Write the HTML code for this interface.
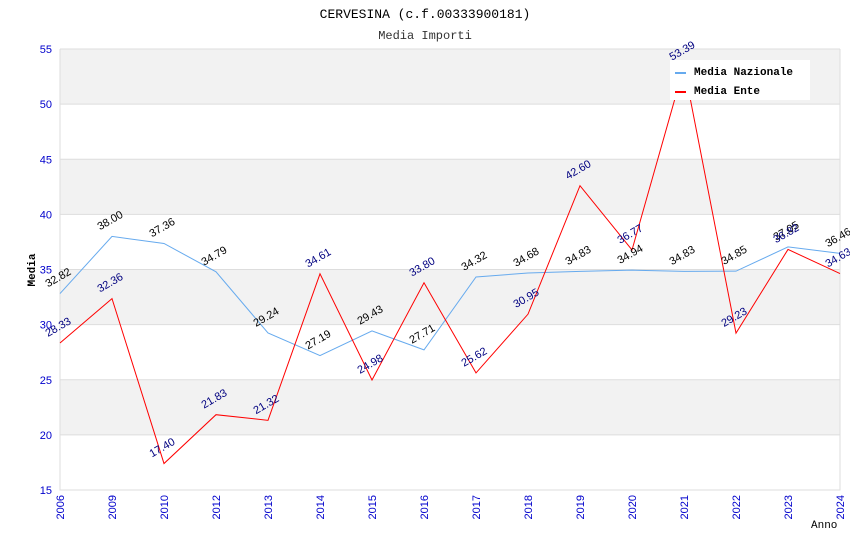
<!DOCTYPE html>
<html><head><meta charset="utf-8"><style>
body{margin:0;background:#fff;}
svg{display:block;}
</style></head><body>
<svg id="chart" width="850" height="550" xmlns="http://www.w3.org/2000/svg">
<text x="425" y="18" text-anchor="middle" font-family="Liberation Mono, monospace" font-size="13" fill="#000">CERVESINA (c.f.00333900181)</text>
<text x="425" y="39" text-anchor="middle" font-family="Liberation Mono, monospace" font-size="12" fill="#333">Media Importi</text>
<g id="bands"></g>
<g id="axes"></g>
<g id="series"></g>
<g id="labels"></g>
<text x="35" y="270" transform="rotate(-90 35 270)" text-anchor="middle" font-family="Liberation Mono, monospace" font-size="11" font-weight="bold">Media</text>
<text x="811" y="528" font-family="Liberation Mono, monospace" font-size="11">Anno</text>
<g>
<rect x="670" y="60" width="140" height="40" fill="#fff"/>
<line x1="675" y1="73" x2="686" y2="73" stroke="#66aaee" stroke-width="2"/>
<text x="694" y="75" font-family="Liberation Mono, monospace" font-size="11" font-weight="bold">Media Nazionale</text>
<line x1="675" y1="92" x2="686" y2="92" stroke="#ff0000" stroke-width="2"/>
<text x="694" y="94" font-family="Liberation Mono, monospace" font-size="11" font-weight="bold">Media Ente</text>
</g>
</svg>
<script>
const categories=["2006","2009","2010","2012","2013","2014","2015","2016","2017","2018","2019","2020","2021","2022","2023","2024"];
const nazionale=[32.82,38.00,37.36,34.79,29.24,27.19,29.43,27.71,34.32,34.68,34.83,34.94,34.83,34.85,37.05,36.46];
const ente=[28.33,32.36,17.40,21.83,21.32,34.61,24.98,33.80,25.62,30.95,42.60,36.77,53.39,29.23,36.82,34.63];
const yTicks=[15,20,25,30,35,40,45,50,55];
const NS="http://www.w3.org/2000/svg";
const L=60,R=840,T=49,B=490,ymin=15,ymax=55;
const xs=i=>L+i*(R-L)/(categories.length-1);
const ys=v=>B-(v-ymin)*(B-T)/(ymax-ymin);
function mk(tag,attrs,parent){const e=document.createElementNS(NS,tag);for(const k in attrs)e.setAttribute(k,attrs[k]);document.getElementById(parent).appendChild(e);return e;}
for(let i=0;i<yTicks.length-1;i++){
 const r=mk('rect',{x:L,y:ys(yTicks[i+1]),width:R-L,height:ys(yTicks[i])-ys(yTicks[i+1]),fill:(i%2===0)?'#fff':'#f2f2f2'},'bands');
 
 
}
yTicks.forEach(v=>{
 const l=mk('line',{x1:L,x2:R,y1:ys(v),y2:ys(v),stroke:'#ddd'},'axes');
 
 
 const t=mk('text',{x:L-8,y:ys(v)+4,'text-anchor':'end','font-family':'Liberation Sans, sans-serif','font-size':11,fill:'#0000cc'},'axes');
 t.textContent=v;
 
 
});
const ax=mk('path',{d:`M${L},${T}V${B}H${R}V${T}`,fill:'none',stroke:'#ddd'},'axes');


categories.forEach((c,i)=>{
 const x=xs(i);
 const t=mk('text',{x:x+4,y:B+5,transform:`rotate(-90 ${x+4} ${B+5})`,'text-anchor':'end','font-family':'Liberation Sans, sans-serif','font-size':11,fill:'#0000cc'},'axes');
 t.textContent=c;
 
 
});
function series(data,color,lc,name){
 const p=mk('polyline',{points:data.map((v,i)=>xs(i)+','+ys(v)).join(' '),fill:'none',stroke:color,'stroke-width':1},'series');
 
 
 data.forEach((v,i)=>{
  const x=xs(i)-12,y=ys(v)-6;
  const t=mk('text',{x:x,y:y,transform:`rotate(-30 ${x} ${y})`,'font-family':'Liberation Sans, sans-serif','font-size':11,fill:lc},'labels');
  t.textContent=v.toFixed(2);
  
  
 });
}
series(nazionale,'#66aaee','#000','nazionale');
series(ente,'#ff0000','#000080','ente');
</script>
</body></html>
